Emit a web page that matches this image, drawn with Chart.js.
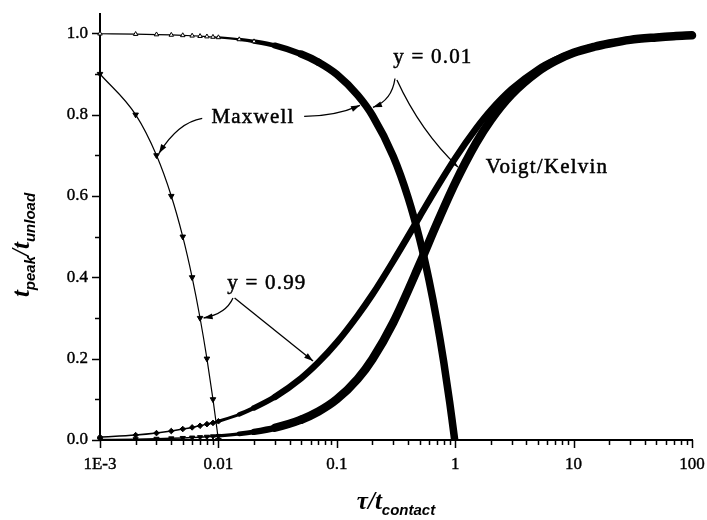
<!DOCTYPE html>
<html lang="en">
<head>
  <meta charset="UTF-8">
  <title>t_peak / t_unload versus tau / t_contact</title>
  <script src="https://cdn.jsdelivr.net/npm/chart.js"></script>
  <style>
    body { margin: 0; background: #fff; }
    canvas { display: block; }
  </style>
</head>
<body>
  <canvas id="chart" width="707" height="520"></canvas>
  <script>
    // tau / t_contact grid used by both Voigt/Kelvin curves
    const voigtTau = [0.001, 0.002, 0.003, 0.004, 0.005, 0.006, 0.007, 0.008, 0.009,
                      0.01, 0.015, 0.02, 0.03, 0.05, 0.07, 0.1, 0.15, 0.2, 0.3, 0.5, 0.7,
                      1, 1.5, 2, 3, 5, 7, 10, 15, 20, 30, 50, 70, 100];
    const voigt099 = [0.007, 0.012, 0.017, 0.022, 0.027, 0.031, 0.035, 0.039, 0.042,
                      0.046, 0.063, 0.079, 0.106, 0.152, 0.191, 0.240, 0.306, 0.358, 0.440, 0.549, 0.621,
                      0.693, 0.766, 0.811, 0.863, 0.912, 0.935, 0.953, 0.968, 0.976, 0.984, 0.990, 0.993, 0.995];
    const voigt001 = [0.001, 0.002, 0.003, 0.004, 0.005, 0.006, 0.007, 0.008, 0.009,
                      0.010, 0.015, 0.020, 0.030, 0.050, 0.070, 0.100, 0.150, 0.199, 0.289, 0.432, 0.532,
                      0.632, 0.730, 0.787, 0.850, 0.906, 0.932, 0.952, 0.967, 0.975, 0.984, 0.990, 0.993, 0.995];

    // Maxwell curves
    const maxwellTau001 = [0.001, 0.002, 0.003, 0.004, 0.005, 0.006, 0.007, 0.008, 0.009,
                           0.01, 0.015, 0.02, 0.03, 0.05, 0.07, 0.1, 0.15, 0.2, 0.3, 0.4,
                           0.5, 0.6, 0.7, 0.8, 0.9, 0.95, 0.99];
    const maxwell001 = [0.999, 0.998, 0.997, 0.996, 0.995, 0.994, 0.993, 0.992, 0.991,
                        0.990, 0.985, 0.980, 0.970, 0.949, 0.929, 0.899, 0.848, 0.798, 0.697, 0.596,
                        0.495, 0.394, 0.293, 0.192, 0.091, 0.040, 0.0];
    const maxwellTau099 = [0.001, 0.002, 0.003, 0.004, 0.005, 0.006, 0.007, 0.008, 0.009, 0.01];
    const maxwell099 = [0.9, 0.8, 0.7, 0.6, 0.5, 0.4, 0.3, 0.2, 0.1, 0.0];

    // axis ticks
    const xTickValues = [0.001, 0.01, 0.1, 1, 10, 100];
    const xTickLabels = ['1E-3', '0.01', '0.1', '1', '10', '100'];
    const yTickValues = [0, 0.2, 0.4, 0.6, 0.8, 1.0];
    const yTickLabels = ['0.0', '0.2', '0.4', '0.6', '0.8', '1.0'];

    // callout labels and their leader lines, in data coordinates
    const notes = [
      { text: 'Maxwell', at: [0.0196, 0.794] },
      { text: 'y = 0.01', at: [0.649, 0.941] },
      { text: 'y = 0.99', at: [0.0257, 0.386] },
      { text: 'Voigt/Kelvin', at: [5.96, 0.671] }
    ];
    const pointers = [
      { from: [0.00730, 0.791], via: [0.00456, 0.781], to: [0.00315, 0.705] },
      { from: [0.0530, 0.796], via: [0.0966, 0.796], to: [0.157, 0.823] },
      { from: [0.310, 0.889], via: [0.292, 0.835], to: [0.202, 0.818] },
      { from: [0.322, 0.885], via: [0.509, 0.759], to: [1.057, 0.671] },
      { from: [0.01328, 0.349], via: [0.0116, 0.310], to: [0.0075, 0.30] },
      { from: [0.0137, 0.349], via: null, to: [0.0630, 0.194] }
    ];

    const SERIF = '"Liberation Serif", "Times New Roman", serif';
    const SANS = '"Liberation Sans", Arial, sans-serif';

    function toPoints(xs, ys) {
      return xs.map((v, i) => ({ x: v, y: ys[i] }));
    }

    // line width grows with tau where the plotted symbols crowd together
    function ramp(x0, x1, w0, w1) {
      return ctx => {
        const xm = Math.sqrt(ctx.p0.parsed.x * ctx.p1.parsed.x);
        if (xm <= x0) return w0;
        if (xm >= x1) return w1;
        return w0 + (w1 - w0) * Math.log(xm / x0) / Math.log(x1 / x0);
      };
    }

    function drawRich(ctx, parts, cx, baseY) {
      let total = 0;
      parts.forEach(p => { ctx.font = p.font; p.w = ctx.measureText(p.t).width; total += p.w; });
      let xp = cx - total / 2;
      parts.forEach(p => { ctx.font = p.font; ctx.fillText(p.t, xp, baseY + p.dy); xp += p.w; });
    }

    const frame = {
      id: 'frame',
      beforeDatasetsDraw(chart) {
        const { ctx, chartArea: a, scales: { x, y } } = chart;
        ctx.save();
        ctx.strokeStyle = '#000';
        ctx.lineWidth = 2;
        ctx.beginPath();
        ctx.moveTo(a.left, a.top);
        ctx.lineTo(a.left, a.bottom);
        ctx.lineTo(a.right + 1, a.bottom);
        ctx.stroke();

        ctx.lineWidth = 1.5;
        ctx.beginPath();
        for (let d = -3; d <= 2; d++) {
          for (let m = 1; m <= 9; m++) {
            const v = m * Math.pow(10, d);
            if (v > 100.0001) break;
            const px = Math.round(x.getPixelForValue(v)) + 0.5;
            const len = m === 1 ? 8 : 5;
            ctx.moveTo(px, a.bottom);
            ctx.lineTo(px, a.bottom + len);
          }
        }
        for (let i = 0; i <= 10; i++) {
          const py = Math.round(y.getPixelForValue(i / 10)) + 0.5;
          const len = i % 2 === 0 ? 8 : 5;
          ctx.moveTo(a.left, py);
          ctx.lineTo(a.left - len, py);
        }
        ctx.stroke();

        // axis titles with subscripts
        ctx.fillStyle = '#000';
        ctx.textAlign = 'left';
        ctx.textBaseline = 'alphabetic';
        const big = 'italic bold 25px ' + SERIF;
        const sub = 'italic bold 15px ' + SANS;
        drawRich(ctx, [
          { t: '\u03c4/t', font: big, dy: 0 },
          { t: 'contact', font: sub, dy: 6 }
        ], (a.left + a.right) / 2, 509);

        ctx.translate(29, 245);
        ctx.rotate(-Math.PI / 2);
        drawRich(ctx, [
          { t: 't', font: big, dy: 0 },
          { t: 'peak', font: sub, dy: 6 },
          { t: '/t', font: big, dy: 0 },
          { t: 'unload', font: sub, dy: 6 }
        ], 0, 0);
        ctx.restore();
      },
      afterDatasetsDraw(chart) {
        const { ctx, scales: { x, y } } = chart;
        const P = p => [x.getPixelForValue(p[0]), y.getPixelForValue(p[1])];
        ctx.save();
        ctx.strokeStyle = '#000';
        ctx.fillStyle = '#000';
        ctx.lineWidth = 1.3;
        pointers.forEach(ptr => {
          const s = P(ptr.from), e = P(ptr.to);
          const c = ptr.via ? P(ptr.via) : [(s[0] + e[0]) / 2, (s[1] + e[1]) / 2];
          ctx.beginPath();
          ctx.moveTo(s[0], s[1]);
          ctx.quadraticCurveTo(c[0], c[1], e[0], e[1]);
          ctx.stroke();
          const ang = Math.atan2(e[1] - c[1], e[0] - c[0]);
          const L = 9, W = 3;
          ctx.beginPath();
          ctx.moveTo(e[0], e[1]);
          ctx.lineTo(e[0] - L * Math.cos(ang) + W * Math.sin(ang), e[1] - L * Math.sin(ang) - W * Math.cos(ang));
          ctx.lineTo(e[0] - L * Math.cos(ang) - W * Math.sin(ang), e[1] - L * Math.sin(ang) + W * Math.cos(ang));
          ctx.closePath();
          ctx.fill();
        });

        ctx.font = '21px ' + SERIF;
        ctx.letterSpacing = '1.2px';
        ctx.lineWidth = 0.5;
        ctx.textAlign = 'center';
        ctx.textBaseline = 'middle';
        notes.forEach(n => {
          const p = P(n.at);
          ctx.fillText(n.text, p[0], p[1]);
          ctx.strokeText(n.text, p[0], p[1]);
        });
        ctx.restore();
      }
    };

    const baseLine = {
      showLine: true,
      borderColor: '#000',
      backgroundColor: '#000',
      pointBorderColor: '#000',
      pointBorderWidth: 1,
      cubicInterpolationMode: 'monotone',
      borderCapStyle: 'round',
      borderJoinStyle: 'round',
      clip: { left: 5, top: 6, right: 8, bottom: 0 }
    };

    const tickFont = { family: SERIF, size: 17 };

    new Chart(document.getElementById('chart'), {
      type: 'scatter',
      plugins: [frame],
      data: {
        datasets: [
          Object.assign({}, baseLine, {
            label: 'Maxwell, y = 0.01',
            data: toPoints(maxwellTau001, maxwell001),
            pointStyle: 'triangle',
            pointBackgroundColor: '#fff',
            pointRadius: ctx => (ctx.parsed && ctx.parsed.x <= 0.021 ? 2.6 : 0),
            borderWidth: 1.2,
            segment: { borderWidth: ramp(0.009, 0.06, 1.2, 7.5) }
          }),
          Object.assign({}, baseLine, {
            label: 'Maxwell, y = 0.99',
            data: toPoints(maxwellTau099, maxwell099),
            pointStyle: 'triangle',
            pointRotation: 180,
            pointBackgroundColor: '#000',
            pointRadius: 3.2,
            borderWidth: 1.2
          }),
          Object.assign({}, baseLine, {
            label: 'Voigt/Kelvin, y = 0.99',
            data: toPoints(voigtTau, voigt099),
            pointStyle: 'rectRot',
            pointBackgroundColor: '#000',
            pointRadius: ctx => (ctx.parsed && ctx.parsed.x <= 0.0101 ? 2.8 : 0),
            borderWidth: 1.5,
            segment: { borderWidth: ramp(0.008, 0.03, 1.5, 6.5) }
          }),
          Object.assign({}, baseLine, {
            label: 'Voigt/Kelvin, y = 0.01',
            data: toPoints(voigtTau, voigt001),
            pointStyle: 'triangle',
            pointRotation: 180,
            pointBackgroundColor: '#000',
            pointRadius: ctx => (ctx.parsed && ctx.parsed.x <= 0.0101 ? 3 : 0),
            borderWidth: 1.5,
            segment: { borderWidth: ramp(0.008, 0.04, 1.5, 8.5) }
          })
        ]
      },
      options: {
        responsive: false,
        animation: false,
        layout: { padding: { top: 13, right: 15, left: 0, bottom: 0 } },
        plugins: { legend: { display: false }, tooltip: { enabled: false } },
        scales: {
          x: {
            type: 'logarithmic',
            min: 0.001,
            max: 100,
            grid: { display: false, drawTicks: false },
            border: { display: false },
            afterBuildTicks: s => { s.ticks = xTickValues.map(v => ({ value: v })); },
            afterFit: s => { s.height = 80; s.paddingLeft = 0; s.paddingRight = 0; },
            ticks: {
              autoSkip: false,
              maxRotation: 0,
              padding: 14,
              color: '#000',
              textStrokeColor: '#000',
              textStrokeWidth: 0.4,
              font: tickFont,
              callback: v => {
                const i = xTickValues.findIndex(t => Math.abs(t - v) / t < 1e-6);
                return i >= 0 ? xTickLabels[i] : '';
              }
            }
          },
          y: {
            type: 'linear',
            min: 0,
            max: 1.05,
            grid: { display: false, drawTicks: false },
            border: { display: false },
            afterBuildTicks: s => { s.ticks = yTickValues.map(v => ({ value: v })); },
            afterFit: s => { s.width = 100; s.paddingTop = 0; s.paddingBottom = 0; },
            ticks: {
              autoSkip: false,
              padding: 12,
              color: '#000',
              textStrokeColor: '#000',
              textStrokeWidth: 0.4,
              font: tickFont,
              callback: v => {
                const i = yTickValues.findIndex(t => Math.abs(t - v) < 1e-6);
                return i >= 0 ? yTickLabels[i] : '';
              }
            }
          }
        }
      }
    });
  </script>
</body>
</html>
